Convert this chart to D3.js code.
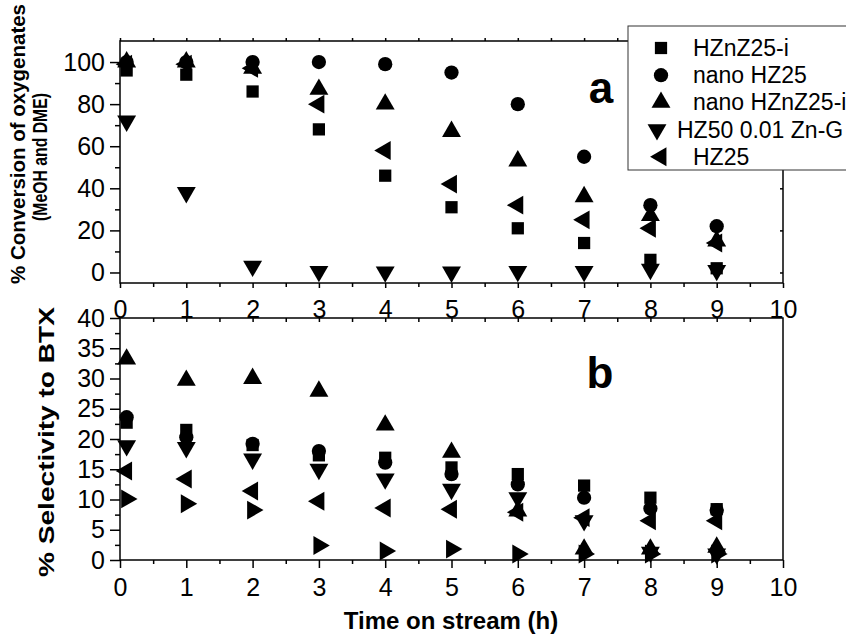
<!DOCTYPE html>
<html>
<head>
<meta charset="utf-8">
<script src="https://cdn.jsdelivr.net/npm/d3@7"></script>
<style>
  body { margin: 0; background: #fff; }
  svg { font-family: "Liberation Sans", Arial, sans-serif; }
</style>
</head>
<body>
<div id="chart"></div>
<script>
// --> DATA
var times = [0.1, 1, 2, 3, 4, 5, 6, 7, 8, 9];
var seriesNames = ["HZnZ25-i", "nano HZ25", "nano HZnZ25-i", "HZ50 0.01 Zn-G", "HZ25", ""];
var seriesShapes = ["square", "circle", "up", "down", "left", "right"];

// % conversion of oxygenates (panel a)
var convSquare = [96, 94, 86, 68, 46, 31, 21, 14, 6, 2];
var convCircle = [100, 100, 100, 100, 99, 95, 80, 55, 32, 22];
var convUp     = [100, 100, 97, 87, 80, 67, 53, 36, 27, 15];
var convDown   = [72, 38, 3, 0.5, 0.3, 0.2, 0.5, 0.5, 1.5, 1];
var convLeft   = [99, 99, 97, 80, 58, 42, 32, 25, 21, 14];

// % selectivity to BTX (panel b)
var selSquare = [22.7, 21.5, 19, 17.3, 16.9, 15.3, 14.2, 12.3, 10.3, 8.4];
var selCircle = [23.6, 20.3, 19.2, 18, 16.1, 14.2, 12.5, 10.3, 8.5, 8.2];
var selUp     = [33.2, 29.7, 30, 27.9, 22.3, 17.8, 8.1, 1.8, 1.8, 2.1];
var selDown   = [18.9, 18.6, 16.7, 15, 13.4, 11.7, 10.3, 6.5, 1.3, 1];
var selLeft   = [14.7, 13.4, 11.4, 9.7, 8.6, 8.4, 7.9, 7, 6.5, 6.5];
var selRight  = [10.1, 9.3, 8.25, 2.4, 1.5, 1.8, 1, 1, 1, 1];

var xTicks = [0, 1, 2, 3, 4, 5, 6, 7, 8, 9, 10];
var convTicks = [0, 20, 40, 60, 80, 100];
var selTicks = [0, 5, 10, 15, 20, 25, 30, 35, 40];

var convSeries = [convSquare, convCircle, convUp, convDown, convLeft];
var selSeries = [selSquare, selCircle, selUp, selDown, selLeft, selRight];

// --> SVG
var width = 846, height = 641;
var svg = d3.select("#chart").append("svg")
    .attr("width", width)
    .attr("height", height);

var left = 120, right = 783;
var topA = 41, bottomA = 283;
var topB = 318, bottomB = 560;

var x = d3.scaleLinear().domain([0, 10]).range([left, right]);
var yA = d3.scaleLinear().domain([-5, 110]).range([bottomA, topA]);
var yB = d3.scaleLinear().domain([0, 40]).range([bottomB, topB]);

var halfTicks = d3.range(0.5, 10, 1);

function styleAxis(g, fontSize) {
    g.select(".domain").remove();
    g.selectAll("line").attr("stroke", "#000").attr("stroke-width", 1.5);
    g.selectAll("text").attr("fill", "#000").style("font-size", fontSize + "px");
}

function symbolPath(shape) {
    if (shape == "square") return d3.symbol().type(d3.symbolSquare).size(150)();
    if (shape == "circle") return d3.symbol().type(d3.symbolCircle).size(160)();
    return d3.symbol().type(d3.symbolTriangle).size(155)();
}
function symbolRotate(shape) {
    if (shape == "down") return 180;
    if (shape == "left") return -90;
    if (shape == "right") return 90;
    return 0;
}

function drawPanel(y, topY, bottomY, ticks, minorTicks, xMajorLen, xMinorLen, data) {
    var g = svg.append("g");

    // left axis
    g.append("g").attr("transform", "translate(" + left + ",0)")
        .call(d3.axisLeft(y).tickValues(ticks).tickSize(10).tickPadding(5).tickFormat(d3.format("d")))
        .call(styleAxis, 25);
    g.append("g").attr("transform", "translate(" + left + ",0)")
        .call(d3.axisLeft(y).tickValues(minorTicks).tickSize(5).tickFormat(""))
        .call(styleAxis, 25);

    // bottom axis
    g.append("g").attr("transform", "translate(0," + bottomY + ")")
        .call(d3.axisBottom(x).tickValues(xTicks).tickSize(xMajorLen).tickPadding(xMajorLen == 8 ? 10 : 12).tickFormat(d3.format("d")))
        .call(styleAxis, 25);
    g.append("g").attr("transform", "translate(0," + bottomY + ")")
        .call(d3.axisBottom(x).tickValues(halfTicks).tickSize(xMinorLen).tickFormat(""))
        .call(styleAxis, 25);

    // frame
    g.append("rect")
        .attr("x", left).attr("y", topY)
        .attr("width", right - left).attr("height", bottomY - topY)
        .attr("fill", "none").attr("stroke", "#000").attr("stroke-width", 1.5);

    // points
    data.forEach(function(vals, si) {
        var shape = seriesShapes[si];
        g.append("g").selectAll("path")
            .data(vals)
            .enter().append("path")
            .attr("d", symbolPath(shape))
            .attr("fill", "#000")
            .attr("transform", function(d, i) {
                return "translate(" + x(times[i]) + "," + y(d) + ") rotate(" + symbolRotate(shape) + ")";
            });
    });
    return g;
}

var gA = drawPanel(yA, topA, bottomA, convTicks, [10, 30, 50, 70, 90], 5, 4, convSeries);
var gB = drawPanel(yB, topB, bottomB, selTicks, d3.range(2.5, 40, 5), 8, 4, selSeries);

// small mirror ticks
gA.append("g").attr("transform", "translate(0," + topA + ")")
    .call(d3.axisTop(x).tickValues(d3.range(0, 10.5, 0.5)).tickSize(3).tickFormat(""))
    .call(styleAxis, 25);
gA.append("g").attr("transform", "translate(" + right + ",0)")
    .call(d3.axisLeft(yA).tickValues(convTicks).tickSize(3).tickFormat(""))
    .call(styleAxis, 25);
gB.append("g").attr("transform", "translate(0," + topB + ")")
    .call(d3.axisBottom(x).tickValues(d3.range(0.5, 10, 0.5)).tickSize(4).tickFormat(""))
    .call(styleAxis, 25);

// panel labels
svg.append("text").attr("x", 601).attr("y", 103).attr("text-anchor", "middle")
    .style("font-size", "44px").style("font-weight", "bold").text("a");
svg.append("text").attr("x", 600).attr("y", 388).attr("text-anchor", "middle")
    .style("font-size", "44px").style("font-weight", "bold").text("b");

// legend
var legend = svg.append("g");
legend.append("rect")
    .attr("x", 628).attr("y", 26).attr("width", 240).attr("height", 144)
    .attr("fill", "#fff").attr("stroke", "#333").attr("stroke-width", 1);

var legendRows = legend.selectAll(".legend")
    .data(seriesNames.slice(0, 5))
    .enter().append("g")
    .attr("class", "legend")
    .attr("transform", function(d, i) {
        var dx = (i == 3) ? -4 : 0;
        return "translate(" + (661 + dx) + "," + (48 + 27.2 * i) + ")";
    });
legendRows.append("path")
    .attr("d", function(d, i) { return symbolPath(seriesShapes[i]); })
    .attr("transform", function(d, i) { return "rotate(" + symbolRotate(seriesShapes[i]) + ")"; })
    .attr("fill", "#000");
legendRows.append("text")
    .attr("x", function(d, i) { return i == 3 ? 20 : 32; })
    .attr("y", 8)
    .style("font-size", "23px")
    .text(function(d) { return d; });

// axis titles
svg.append("text")
    .attr("transform", "translate(25,144) rotate(-90)")
    .attr("text-anchor", "middle")
    .attr("textLength", 280).attr("lengthAdjust", "spacingAndGlyphs")
    .style("font-size", "20px").style("font-weight", "bold")
    .text("% Conversion of oxygenates");
svg.append("text")
    .attr("transform", "translate(47,157) rotate(-90)")
    .attr("text-anchor", "middle")
    .attr("textLength", 128).attr("lengthAdjust", "spacingAndGlyphs")
    .style("font-size", "20px").style("font-weight", "bold")
    .text("(MeOH and DME)");
svg.append("text")
    .attr("transform", "translate(54,442) rotate(-90)")
    .attr("text-anchor", "middle")
    .attr("textLength", 270).attr("lengthAdjust", "spacingAndGlyphs")
    .style("font-size", "22px").style("font-weight", "bold")
    .text("% Selectivity to BTX");
svg.append("text")
    .attr("x", 451).attr("y", 629)
    .attr("text-anchor", "middle")
    .style("font-size", "24px").style("font-weight", "bold")
    .text("Time on stream (h)");
</script>
</body>
</html>
